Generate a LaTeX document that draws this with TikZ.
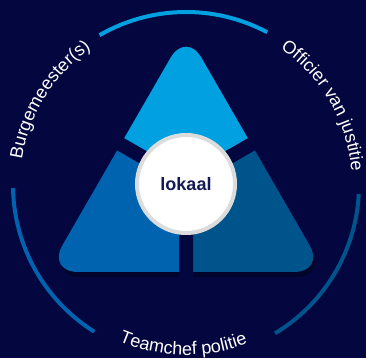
\documentclass[tikz,border=0pt]{standalone}
\usepackage{fontspec}
\setmainfont{Liberation Sans}
\usetikzlibrary{decorations.text,shadows}
\definecolor{navybg}{HTML}{03063F}
\definecolor{lightblue}{HTML}{00A0E1}
\definecolor{midblue}{HTML}{0063AF}
\definecolor{darkblue}{HTML}{00548C}
\definecolor{textnavy}{HTML}{141A55}
\definecolor{ringgray}{HTML}{DCDCDC}

\begin{document}
\begin{tikzpicture}[x=1pt,y=1pt,
    piece/.style={rounded corners=31pt},
    gap/.style={draw=navybg, line width=14pt},
    rim/.style={line width=4pt},
    curvedtext/.style={decorate, decoration={text along path, text align=center,
        text color=white, text={|\fontsize{18}{21}\selectfont|#1}}}]
    \fill[navybg] (0,0) rectangle (366,358);
    \useasboundingbox (0,0) rectangle (366,358);
    \coordinate (O) at (186,173);
    \coordinate (P) at (186,176);
    \coordinate (M) at (186,86);
    \coordinate (L) at (47,86);
    \coordinate (R) at (325,86);
    \coordinate (T) at (186,327);
    \fill[black, opacity=0.3, piece] ([xshift=2pt,yshift=-5pt]M) -- ([xshift=2pt,yshift=-5pt]R)
        -- ([xshift=2pt,yshift=-5pt]T) -- ([xshift=2pt,yshift=-5pt]L) -- cycle;
    \begin{scope}
        \clip (P) -- +(30:400pt) -- +(90:400pt) -- +(150:400pt) -- cycle;
        \fill[lightblue, piece] (M) -- (R) -- (T) -- (L) -- cycle;
    \end{scope}
    \begin{scope}
        \clip (P) -- +(150:400pt) -- +(210:400pt) -- +(270:400pt) -- cycle;
        \fill[midblue, piece] (M) -- (R) -- (T) -- (L) -- cycle;
    \end{scope}
    \begin{scope}
        \clip (P) -- +(270:400pt) -- +(330:400pt) -- +(30:400pt) -- cycle;
        \fill[darkblue, piece] (M) -- (R) -- (T) -- (L) -- cycle;
    \end{scope}
    \draw[gap] (P) -- +(30:100pt) (P) -- +(150:100pt) (P) -- +(270:100pt);
    \node[circle, fill=white, draw=ringgray, line width=4pt, minimum size=98pt,
        drop shadow={opacity=0.35, shadow xshift=1pt, shadow yshift=-2pt},
        font=\bfseries\fontsize{18}{18}\selectfont, text=textnavy] (hub) at (186,174) {lokaal};
    \draw[rim, lightblue] (O) ++(62:173pt) arc[start angle=62, end angle=120, radius=173pt];
    \draw[rim, midblue] (O) ++(181:173pt) arc[start angle=181, end angle=238, radius=173pt];
    \draw[rim, darkblue] (O) ++(-59:173pt) arc[start angle=-59, end angle=-3, radius=173pt];
    \path[curvedtext=Burgemeester(s)] (O) ++(178:166pt) arc[start angle=178, end angle=118, radius=166pt];
    \path[curvedtext=Officier van justitie] (O) ++(64:166pt) arc[start angle=64, end angle=-4, radius=166pt];
    \path[curvedtext=Teamchef politie] (O) ++(238:170pt) arc[start angle=238, end angle=300, radius=170pt];
\end{tikzpicture}
\end{document}
